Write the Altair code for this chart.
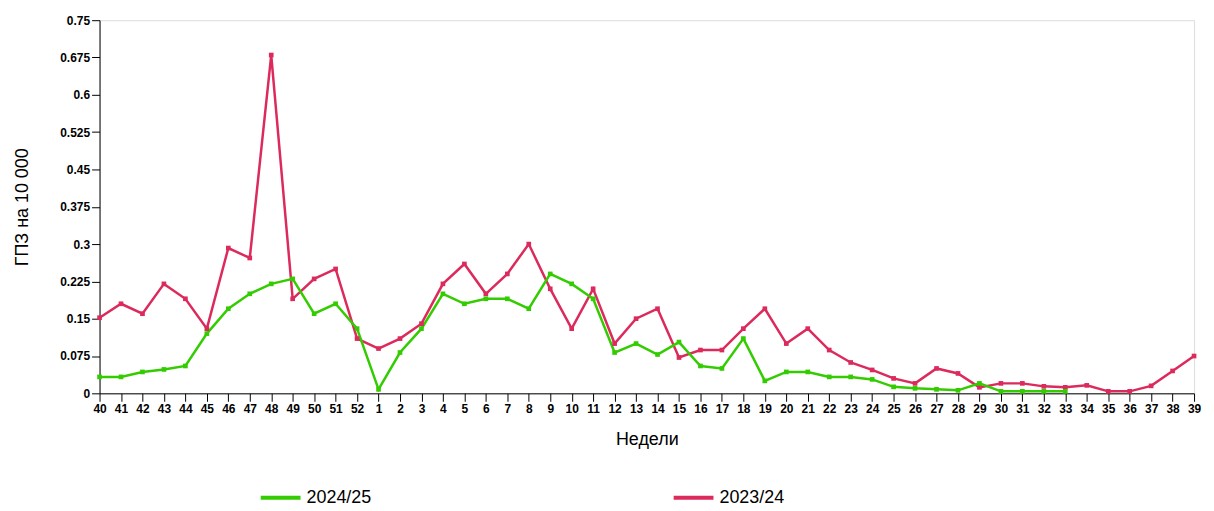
import altair as alt
import pandas as pd

weeks = [str(w) for w in list(range(40, 53)) + list(range(1, 40))]

s2324 = [0.152, 0.18, 0.16, 0.22, 0.19, 0.13, 0.292, 0.272, 0.68, 0.19, 0.23, 0.25, 0.11,
         0.09, 0.11, 0.14, 0.22, 0.26, 0.2, 0.24, 0.3, 0.21, 0.13, 0.21, 0.1, 0.15, 0.17,
         0.072, 0.087, 0.087, 0.13, 0.17, 0.1, 0.13, 0.087, 0.062, 0.047, 0.03, 0.02, 0.05,
         0.04, 0.012, 0.02, 0.02, 0.014, 0.012, 0.016, 0.004, 0.004, 0.015, 0.045, 0.075]
s2425 = [0.033, 0.033, 0.043, 0.048, 0.055, 0.12, 0.17, 0.2, 0.22, 0.23, 0.16, 0.18, 0.13,
         0.008, 0.082, 0.13, 0.2, 0.18, 0.19, 0.19, 0.17, 0.24, 0.22, 0.19, 0.082, 0.1, 0.078,
         0.103, 0.055, 0.05, 0.11, 0.025, 0.043, 0.043, 0.033, 0.033, 0.028, 0.013, 0.01,
         0.008, 0.006, 0.02, 0.004, 0.004, 0.004, 0.004]
y_ticks = [0, 0.075, 0.15, 0.225, 0.3, 0.375, 0.45, 0.525, 0.6, 0.675, 0.75]

rows = [{"week": w, "season": "2023/24", "value": v} for w, v in zip(weeks, s2324)]
rows += [{"week": w, "season": "2024/25", "value": v} for w, v in zip(weeks, s2425)]
df = pd.DataFrame(rows)

base = alt.Chart(df).encode(
    x=alt.X("week:O", sort=weeks, title="Недели",
            scale=alt.Scale(padding=0),
            axis=alt.Axis(labelAngle=0, labelFontWeight="bold", labelFontSize=12,
                          labelColor="black", domainColor="black", tickColor="black",
                          tickSize=8, titleFontSize=18, titleFontWeight="normal",
                          titlePadding=16, labelPadding=2)),
    y=alt.Y("value:Q", title="ГПЗ на 10 000",
            scale=alt.Scale(domain=[0, 0.75], nice=False),
            axis=alt.Axis(values=y_ticks, grid=False, labelFontWeight="bold", labelFontSize=12,
                          labelColor="black", domainColor="black", tickColor="black",
                          tickSize=8, titleFontSize=18, titleFontWeight="normal",
                          titlePadding=28, labelExpr="toString(datum.value)")),
    color=alt.Color("season:N", title=None,
                    scale=alt.Scale(domain=["2024/25", "2023/24"], range=["#33cc00", "#dc2a5c"]),
                    legend=alt.Legend(orient="none", legendX=160, legendY=458,
                                      direction="horizontal", symbolType="stroke",
                                      symbolStrokeWidth=4, symbolSize=1600, labelFontSize=18,
                                      columnPadding=295, labelColor="black")),
)

lines = base.mark_line(strokeWidth=2.5)
pts = base.mark_square(size=22, opacity=1)

chart = (lines + pts).properties(
    width=1100, height=375, padding={"left": 5, "top": 5, "right": 5, "bottom": 0}
).configure_view(stroke=None).configure(font="Arial")
chart.save("out.html", embed_options={"renderer": "svg", "actions": False})
